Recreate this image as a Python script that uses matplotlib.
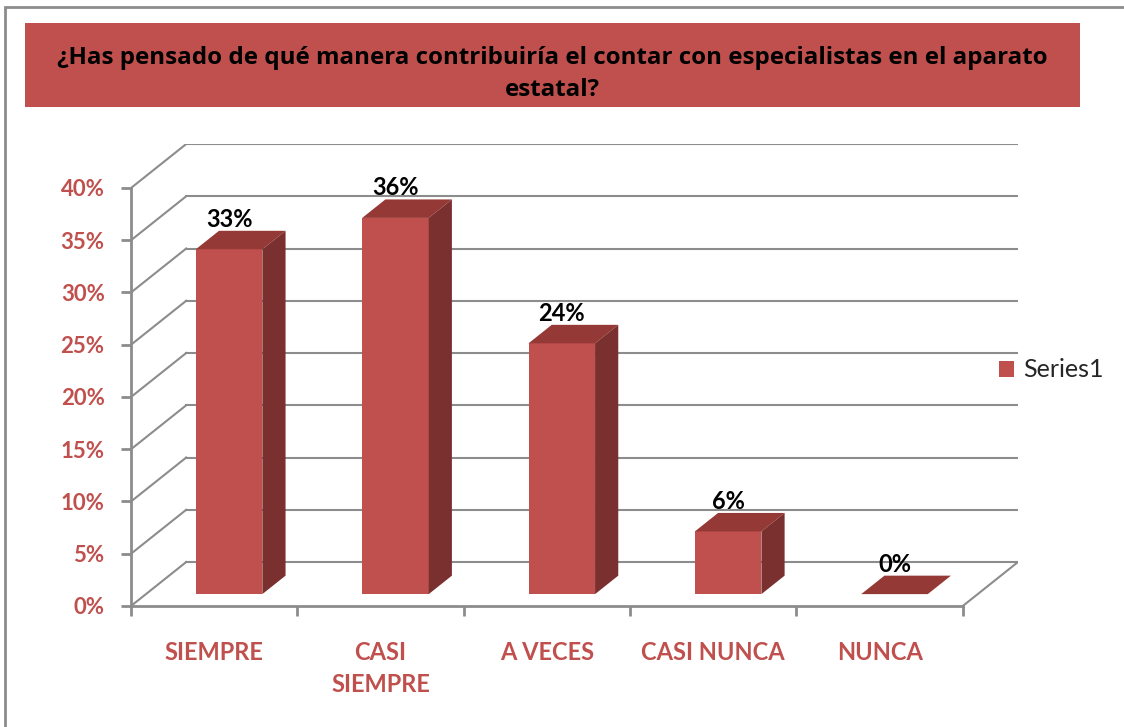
import numpy as np
import matplotlib
matplotlib.use("Agg")
import matplotlib.pyplot as plt
from matplotlib.patches import Polygon, Rectangle

plt.rcParams['font.family'] = ['Lato', 'DejaVu Sans']

categories = ["SIEMPRE", "CASI\nSIEMPRE", "A VECES", "CASI NUNCA", "NUNCA"]
values = [33, 36, 24, 6, 0]
yticks = [0, 5, 10, 15, 20, 25, 30, 35, 40]
series_name = "Series1"
title = ("¿Has pensado de qué manera contribuiría el contar con especialistas en el aparato\n"
         "estatal?")

front_col = "#C0504D"
top_col = "#953936"
side_col = "#7A302E"
grid_col = "#8C8C8C"
label_col = "#C0504D"

# oblique projection: depth z in [0, 1] shifts points right and up
DX = 0.332
DY = 4.21
W = 0.40
Z0, Z1 = 0.27, 0.69


def proj(x, y, z):
    return (x + z * DX, y + z * DY)


fig = plt.figure(figsize=(11.24, 7.27), dpi=100)
fig.patch.set_facecolor("white")

# outer frame
fig.patches.append(Rectangle((5 / 1124, -0.01), 1.2, (727 - 7) / 727 + 0.01,
                             transform=fig.transFigure, fill=False,
                             edgecolor="#8C8C8C", lw=2))

# title banner
fig.patches.append(Rectangle((25 / 1124, 1 - 107 / 727), 1055 / 1124, 84 / 727,
                             transform=fig.transFigure, facecolor=front_col,
                             edgecolor="none"))
fig.text(552 / 1124, 1 - 74 / 727, title, ha="center", va="center",
         fontsize=17.4, fontweight="bold", color="black", linespacing=1.5,
         family=["Open Sans", "DejaVu Sans"])

ax = fig.add_axes([131 / 1124, 121 / 727, 887 / 1124, 462 / 727])
n = len(values)
ax.set_xlim(-0.5, n - 0.5 + DX)
ax.set_ylim(0, yticks[-1] + DY)

# back wall and left side grid
for v in yticks:
    ax.plot(*zip(proj(-0.5, v, 0), proj(-0.5, v, 1)), color=grid_col, lw=1.5, zorder=1)
    ax.plot(*zip(proj(-0.5, v, 1), proj(n - 0.5, v, 1)), color=grid_col, lw=1.5, zorder=1)
# floor right edge
ax.plot(*zip(proj(n - 0.5, 0, 0), proj(n - 0.5, 0, 1)), color=grid_col, lw=1.5, zorder=1)

xpos = np.arange(n)
bars = ax.bar(xpos + Z0 * DX, values, width=W, bottom=Z0 * DY,
              color=front_col, edgecolor="none", zorder=3, label=series_name)

for i, v in enumerate(values):
    x0, x1 = i - W / 2, i + W / 2
    top = [proj(x0, v, Z0), proj(x1, v, Z0), proj(x1, v, Z1), proj(x0, v, Z1)]
    ax.add_patch(Polygon(top, closed=True, facecolor=top_col, edgecolor="none", zorder=4))
    if v > 0:
        side = [proj(x1, 0, Z0), proj(x1, v, Z0), proj(x1, v, Z1), proj(x1, 0, Z1)]
        ax.add_patch(Polygon(side, closed=True, facecolor=side_col, edgecolor="none", zorder=4))
    lx, ly = proj(i, v, Z0)
    ax.text(lx, v + Z1 * DY, f"{v}%", ha="center", va="bottom",
            fontsize=17, fontweight="bold", color="black", zorder=5)

# axes and ticks
for s in ["top", "right"]:
    ax.spines[s].set_visible(False)
ax.spines["left"].set_bounds(0, yticks[-1])
ax.spines["bottom"].set_bounds(-0.5, n - 0.5)
for s in ["left", "bottom"]:
    ax.spines[s].set_color(grid_col)
    ax.spines[s].set_linewidth(2)

ax.set_yticks(yticks)
ax.set_yticklabels([f"{v}%" for v in yticks])
ax.tick_params(axis="y", direction="out", length=7, width=2, color=grid_col,
               labelcolor=label_col, labelsize=16, pad=12)

ax.set_xticks(np.arange(-0.5, n, 1.0))
ax.set_xticklabels([])
ax.set_xticks(xpos, minor=True)
ax.set_xticklabels(categories, minor=True)
ax.tick_params(axis="x", which="major", direction="out", length=7, width=2, color=grid_col)
ax.tick_params(axis="x", which="minor", length=0, pad=25, labelcolor=label_col,
               labelsize=17)
for t in ax.get_xticklabels(minor=True):
    t.set_fontweight("bold")
    t.set_linespacing(1.5)
    t.set_verticalalignment("top")
for t in ax.get_yticklabels():
    t.set_fontweight("bold")

leg = fig.legend(handles=[bars], labels=[series_name], loc="center left",
                 bbox_to_anchor=(976 / 1124, 1 - 370 / 727), frameon=False,
                 fontsize=18, handlelength=0.6, handleheight=0.6, handletextpad=0.4)
for t in leg.get_texts():
    t.set_color("#262626")

fig.savefig("out.png", dpi=100)
